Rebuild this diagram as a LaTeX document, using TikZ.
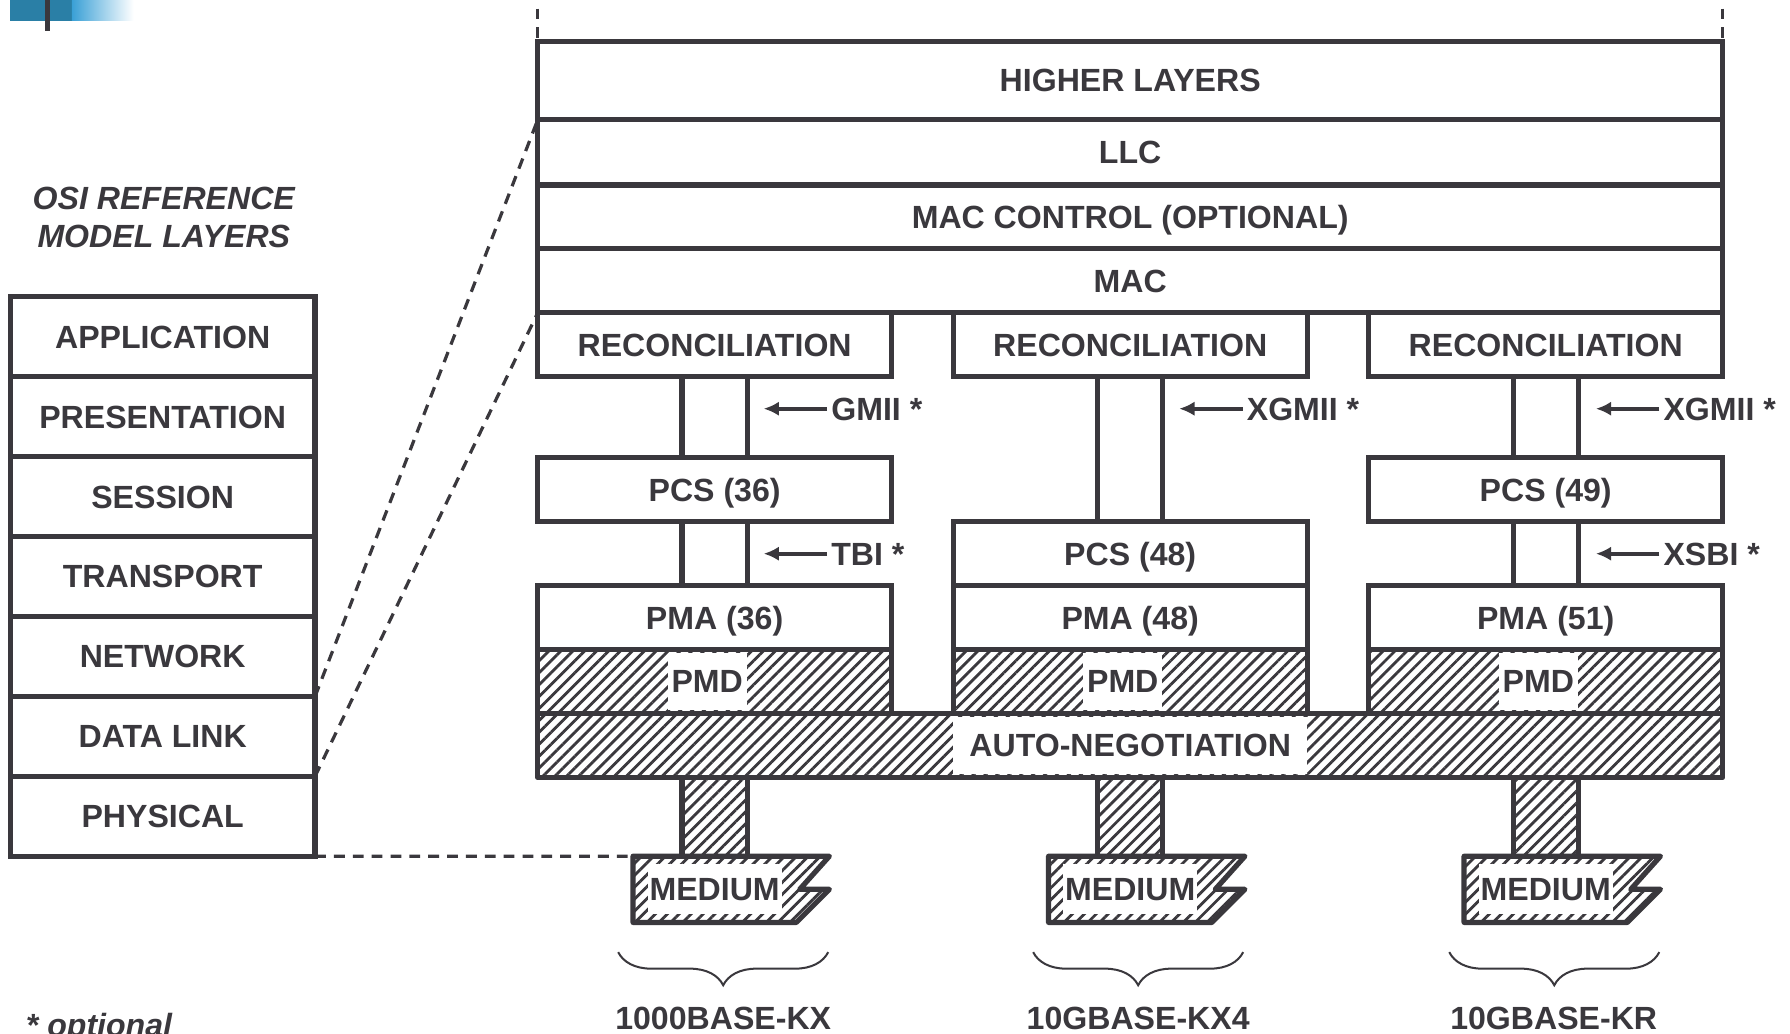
\documentclass[tikz,border=0pt]{standalone}
\usepackage{fontspec}
\setmainfont{Liberation Sans}
\usepackage{tikz}
\usetikzlibrary{positioning}
\usetikzlibrary{arrows.meta}
\usetikzlibrary{patterns.meta}
\usetikzlibrary{decorations.pathreplacing}
\definecolor{ink}{RGB}{58,56,61}
\definecolor{logoteal}{RGB}{42,127,166}
\definecolor{logoblue}{RGB}{58,160,214}
\tikzset{
layer/.style={rectangle, draw=ink, line width=1.3pt, fill=white, text=ink, outer sep=0, inner sep=0, minimum height=0.56cm, text height=5.7pt, text depth=0pt},
osi_layer/.style={layer, minimum width=2.67cm, minimum height=0.70cm},
wide_layer/.style={layer, minimum width=10.38cm},
col_layer/.style={layer, minimum width=3.10cm},
hatched/.style={draw=ink, line width=1.3pt, line join=round, pattern={Lines[angle=45, distance=2.1pt, line width=0.7pt]}, pattern color=ink},
hatch_layer/.style={col_layer, hatched},
stem/.style={hatched, minimum width=0.57cm, minimum height=0.69cm, outer sep=0, inner sep=0},
tag/.style={fill=white, text=ink, inner xsep=1pt, inner ysep=0pt, minimum height=0.5cm, text height=5.7pt, text depth=0pt},
wire/.style={draw=ink, line width=1.3pt},
pointer/.style={draw=ink, line width=1.05pt, -{Latex[length=3.8pt, width=3.6pt]}},
iface/.style={text=ink, anchor=west, inner sep=0.03cm, text height=5.7pt, text depth=0pt},
map_line/.style={draw=ink, line width=0.8pt, dash pattern=on 2.7pt off 2pt},
brace_line/.style={draw=ink, line width=0.5pt, decorate, decoration={brace, mirror, amplitude=0.29cm}}
}

\begin{document}
\begin{tikzpicture}[font=\bfseries\fontsize{8}{9.6}\selectfont]
    \useasboundingbox (0,0) rectangle (15.68,-9.05);
    % corner mark
    \fill[logoteal] (0.09,0) rectangle (0.63,-0.18);
    \shade[left color=logoblue, right color=white] (0.63,0) rectangle (1.17,-0.18);
    \fill[ink] (0.39,0) rectangle (0.44,-0.27);

    % OSI side
    \node[text=ink, align=center, font=\bfseries\itshape\fontsize{8}{9.4}\selectfont] (osi_title) at (1.435,-1.905) {OSI REFERENCE\\MODEL LAYERS};
    \node[osi_layer] (app) at (1.425,-2.95) {APPLICATION};
    \node[osi_layer] (pres) [below=0 of app] {PRESENTATION};
    \node[osi_layer] (sess) [below=0 of pres] {SESSION};
    \node[osi_layer] (trans) [below=0 of sess] {TRANSPORT};
    \node[osi_layer] (net) [below=0 of trans] {NETWORK};
    \node[osi_layer] (dlink) [below=0 of net] {DATA LINK};
    \node[osi_layer] (phys) [below=0 of dlink] {PHYSICAL};

    % 802.3 side
    \node[wide_layer, minimum height=0.69cm] (higher) at (9.90,-0.705) {HIGHER LAYERS};
    \node[wide_layer, minimum height=0.57cm] (llc) [below=0 of higher] {LLC};
    \node[wide_layer] (macc) [below=0 of llc] {MAC CONTROL (OPTIONAL)};
    \node[wide_layer] (mac) [below=0 of macc] {MAC};

    \node[col_layer, anchor=north west] (rec_1) at (mac.south west) {RECONCILIATION};
    \node[col_layer] (pcs_1) [below=0.71cm of rec_1] {PCS (36)};
    \node[col_layer] (pma_1) [below=0.56cm of pcs_1] {PMA (36)};
    \node[hatch_layer, label={[tag, xshift=-0.065cm]center:PMD}] (pmd_1) [below=0 of pma_1] {};

    \node[col_layer] (rec_2) [below=0 of mac] {RECONCILIATION};
    \node[col_layer] (pcs_2) [below=1.27cm of rec_2] {PCS (48)};
    \node[col_layer] (pma_2) [below=0 of pcs_2] {PMA (48)};
    \node[hatch_layer, label={[tag, xshift=-0.065cm]center:PMD}] (pmd_2) [below=0 of pma_2] {};

    \node[col_layer, anchor=north east] (rec_3) at (mac.south east) {RECONCILIATION};
    \node[col_layer] (pcs_3) [below=0.71cm of rec_3] {PCS (49)};
    \node[col_layer] (pma_3) [below=0.56cm of pcs_3] {PMA (51)};
    \node[hatch_layer, label={[tag, xshift=-0.065cm]center:PMD}] (pmd_3) [below=0 of pma_3] {};

    \node[wide_layer, hatched, label={[tag, inner xsep=0.14cm]center:AUTO-NEGOTIATION}] (autoneg) [below=0 of pmd_2] {};

    % interfaces
    \draw[wire] ([xshift=-0.285cm]rec_1.south) -- ([xshift=-0.285cm]pcs_1.north);
    \draw[wire] ([xshift=0.285cm]rec_1.south) -- ([xshift=0.285cm]pcs_1.north);
    \draw[wire] ([xshift=-0.285cm]pcs_1.south) -- ([xshift=-0.285cm]pma_1.north);
    \draw[wire] ([xshift=0.285cm]pcs_1.south) -- ([xshift=0.285cm]pma_1.north);
    \draw[wire] ([xshift=-0.285cm]rec_2.south) -- ([xshift=-0.285cm]pcs_2.north);
    \draw[wire] ([xshift=0.285cm]rec_2.south) -- ([xshift=0.285cm]pcs_2.north);
    \draw[wire] ([xshift=-0.285cm]rec_3.south) -- ([xshift=-0.285cm]pcs_3.north);
    \draw[wire] ([xshift=0.285cm]rec_3.south) -- ([xshift=0.285cm]pcs_3.north);
    \draw[wire] ([xshift=-0.285cm]pcs_3.south) -- ([xshift=-0.285cm]pma_3.north);
    \draw[wire] ([xshift=0.285cm]pcs_3.south) -- ([xshift=0.285cm]pma_3.north);

    \node[iface] (gmii) at (7.245,-3.58) {GMII *};
    \node[iface] (tbi) at (7.245,-4.85) {TBI *};
    \node[iface] (xgmii_2) at (10.885,-3.58) {XGMII *};
    \node[iface] (xgmii_3) at (14.535,-3.58) {XGMII *};
    \node[iface] (xsbi) at (14.535,-4.85) {XSBI *};
    \coordinate (gmii_tip) at (6.69,-3.58);
    \coordinate (tbi_tip) at (6.69,-4.85);
    \coordinate (xgmii_2_tip) at (10.33,-3.58);
    \coordinate (xgmii_3_tip) at (13.98,-3.58);
    \coordinate (xsbi_tip) at (13.98,-4.85);
    \draw[pointer] (gmii) -- (gmii_tip);
    \draw[pointer] (tbi) -- (tbi_tip);
    \draw[pointer] (xgmii_2) -- (xgmii_2_tip);
    \draw[pointer] (xgmii_3) -- (xgmii_3_tip);
    \draw[pointer] (xsbi) -- (xsbi_tip);

    % media
    \node[stem, anchor=north] (stem_1) at (autoneg.south -| pma_1) {};
    \node[stem, anchor=north] (stem_2) at (autoneg.south -| pma_2) {};
    \node[stem, anchor=north] (stem_3) at (autoneg.south -| pma_3) {};
    \coordinate (med_1_nw) at ([xshift=-0.715cm]stem_1.south);
    \coordinate (med_2_nw) at ([xshift=-0.715cm]stem_2.south);
    \coordinate (med_3_nw) at ([xshift=-0.715cm]stem_3.south);
    \draw[hatched] (med_1_nw) -- ++(1.72,0) -- ++(-0.26,-0.29) -- ++(0.26,0) -- ++(-0.29,-0.29) -- ++(-1.43,0) -- cycle;
    \draw[hatched] (med_2_nw) -- ++(1.72,0) -- ++(-0.26,-0.29) -- ++(0.26,0) -- ++(-0.29,-0.29) -- ++(-1.43,0) -- cycle;
    \draw[hatched] (med_3_nw) -- ++(1.72,0) -- ++(-0.26,-0.29) -- ++(0.26,0) -- ++(-0.29,-0.29) -- ++(-1.43,0) -- cycle;
    \node[tag, minimum height=0.44cm, inner xsep=0.5pt] (med_1) at ([yshift=-0.29cm]stem_1.south) {MEDIUM};
    \node[tag, minimum height=0.44cm, inner xsep=0.5pt] (med_2) at ([yshift=-0.29cm]stem_2.south) {MEDIUM};
    \node[tag, minimum height=0.44cm, inner xsep=0.5pt] (med_3) at ([yshift=-0.29cm]stem_3.south) {MEDIUM};

    \draw[brace_line] (5.415,-8.34) -- (7.255,-8.34);
    \draw[brace_line] (9.05,-8.34) -- (10.89,-8.34);
    \draw[brace_line] (12.695,-8.34) -- (14.535,-8.34);
    \node[text=ink] (kx) at (6.335,-8.92) {1000BASE-KX};
    \node[text=ink] (kx4) at (9.97,-8.92) {10GBASE-KX4};
    \node[text=ink] (kr) at (13.61,-8.92) {10GBASE-KR};

    % layer mapping
    \coordinate[above=0.285cm of higher.north west] (top_l);
    \coordinate[above=0.285cm of higher.north east] (top_r);
    \draw[map_line] (top_l) -- (higher.north west);
    \draw[map_line] (top_r) -- (higher.north east);
    \draw[map_line] (dlink.north east) -- (llc.north west);
    \draw[map_line] (dlink.south east) -- (rec_1.north west);
    \draw[map_line] (phys.south east) -- (med_1_nw);

    \node[text=ink, font=\bfseries\itshape\fontsize{8}{9.6}\selectfont, anchor=base west, inner sep=0] (note) at (0.22,-9.075) {* optional};
\end{tikzpicture}
\end{document}
